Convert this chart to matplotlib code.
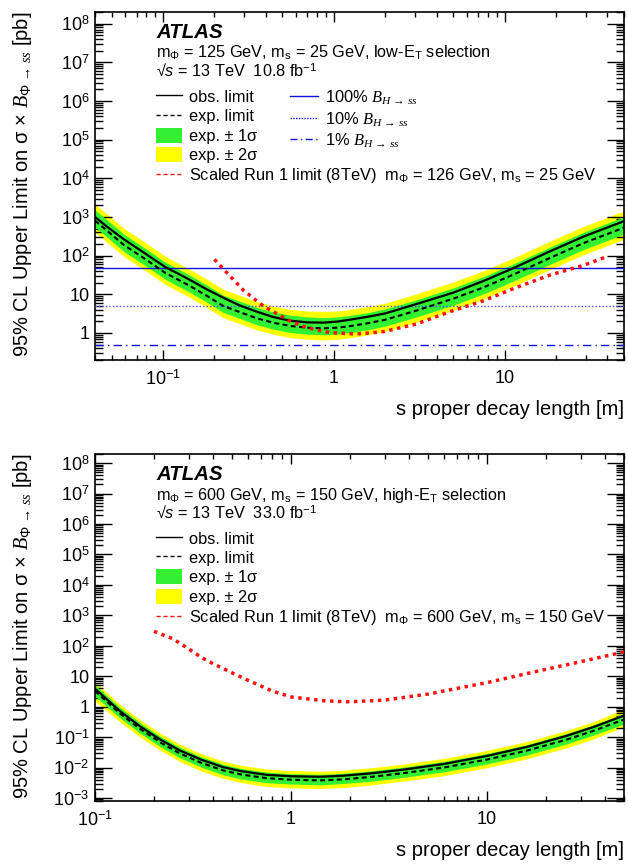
import numpy as np
import matplotlib
matplotlib.use('Agg')
import matplotlib.pyplot as plt
from matplotlib.lines import Line2D
from matplotlib.patches import Patch
from matplotlib.ticker import LogLocator, FuncFormatter, NullFormatter

plt.rcParams['font.family'] = ['Liberation Sans', 'DejaVu Sans']
plt.rcParams['mathtext.fontset'] = 'custom'
plt.rcParams['mathtext.rm'] = 'Liberation Sans'
plt.rcParams['mathtext.it'] = 'Liberation Serif:italic'
plt.rcParams['mathtext.sf'] = 'Liberation Sans:italic'
plt.rcParams['mathtext.bf'] = 'Liberation Sans:bold'

# ---------------- data: top panel (m_Phi=125, m_s=25, low-ET) ----------------
top_x   = [0.04, 0.047, 0.059, 0.08, 0.103, 0.144, 0.18, 0.225, 0.28, 0.354,
           0.44, 0.555, 0.7, 0.87, 1.05, 1.24, 1.6, 2.0, 3.05, 5.0,
           7.5, 11.2, 18.5, 28.9, 50]
top_obs = [1000, 560, 265, 108, 51, 23.5, 13.5, 8.2, 5.2, 3.56,
           2.6, 2.08, 1.88, 1.85, 1.97, 2.2, 2.65, 3.2, 5.6, 11,
           22, 47, 130, 310, 780]
top_exp = [800, 445, 189, 78, 36, 16.4, 9.2, 5.0, 3.5, 2.4,
           1.85, 1.52, 1.37, 1.32, 1.37, 1.5, 1.8, 2.2, 3.8, 7.7,
           15, 32, 88, 210, 530]
top_m2  = [400, 222, 95, 39, 18, 8.2, 4.6, 2.5, 1.75, 1.2,
           0.93, 0.76, 0.69, 0.66, 0.69, 0.75, 0.9, 1.1, 1.9, 3.85,
           7.5, 16, 44, 105, 265]
top_m1  = [545, 303, 128, 53, 24.5, 11.2, 6.3, 3.4, 2.4, 1.63,
           1.26, 1.03, 0.93, 0.9, 0.93, 1.02, 1.22, 1.5, 2.6, 5.2,
           10.2, 21.8, 60, 143, 360]
top_p1  = [1520, 845, 360, 148, 68, 31, 17.5, 9.5, 6.7, 4.6,
           3.5, 2.9, 2.6, 2.5, 2.6, 2.85, 3.4, 4.2, 7.2, 14.6,
           28.5, 61, 167, 400, 1010]
top_p2  = [2160, 1200, 510, 210, 97, 44, 25, 13.5, 9.5, 6.5,
           5.0, 4.1, 3.7, 3.6, 3.7, 4.05, 4.9, 5.9, 10.3, 20.8,
           40.5, 86, 238, 567, 1430]
top_run1_x = [0.2, 0.25, 0.295, 0.386, 0.555, 0.694, 0.95, 1.36, 1.95, 3.05,
              4.78, 7.5, 11.8, 18.5, 28.9, 38.2]
top_run1_y = [80, 28, 12.9, 5.0, 2.04, 1.37, 1.02, 0.94, 1.08, 1.71,
              3.56, 6.8, 15.2, 31.6, 56, 88.5]
# sigma(H) x BR lines : 100%, 10%, 1%
br_levels = [48.6, 4.86, 0.486]
br_labels = [r'100% $B_{H\,\rightarrow\,ss}$', r'10% $B_{H\,\rightarrow\,ss}$',
             r'1% $B_{H\,\rightarrow\,ss}$']

# ---------------- data: bottom panel (m_Phi=600, m_s=150, high-ET) ----------------
bot_x   = [0.1, 0.134, 0.17, 0.215, 0.27, 0.347, 0.45, 0.56, 0.75, 1.0,
           1.4, 1.84, 2.6, 3.76, 6.0, 10, 16, 25.3, 35, 50]
bot_obs = [3.9, 0.72, 0.225, 0.084, 0.0369, 0.0184, 0.01035, 0.0076, 0.0058, 0.0052,
           0.0050, 0.0054, 0.00653, 0.0086, 0.0131, 0.0242, 0.0479, 0.109, 0.216, 0.51]
bot_exp = [3.3, 0.6, 0.186, 0.068, 0.0296, 0.0145, 0.0081, 0.0059, 0.0045, 0.0040,
           0.0038, 0.0041, 0.0050, 0.0066, 0.0100, 0.0184, 0.0362, 0.082, 0.162, 0.38]
bot_m2  = [1.5, 0.32, 0.10, 0.037, 0.016, 0.0078, 0.0044, 0.0032, 0.0024, 0.00216,
           0.00205, 0.0022, 0.0027, 0.0036, 0.0054, 0.0099, 0.0195, 0.044, 0.087, 0.22]
bot_m1  = [2.2, 0.43, 0.134, 0.049, 0.0213, 0.0104, 0.0058, 0.0042, 0.0032, 0.0029,
           0.0027, 0.0030, 0.0036, 0.0048, 0.0072, 0.0132, 0.026, 0.059, 0.117, 0.27]
bot_p1  = [5.2, 0.95, 0.294, 0.107, 0.0468, 0.0229, 0.0128, 0.0093, 0.0071, 0.0063,
           0.0060, 0.0065, 0.0079, 0.0104, 0.0158, 0.029, 0.057, 0.13, 0.256, 0.6]
bot_p2  = [6.6, 1.2, 0.372, 0.136, 0.059, 0.029, 0.0162, 0.0118, 0.009, 0.0080,
           0.0076, 0.0082, 0.0100, 0.0132, 0.020, 0.0368, 0.072, 0.164, 0.324, 0.85]
bot_run1_x = [0.2, 0.25, 0.3, 0.35, 0.4, 0.5, 0.6, 0.8, 1.0, 1.5, 2.0, 3.0, 5.0,
              10, 20, 30, 50]
bot_run1_y = [300, 170, 80, 41, 26, 13, 7.5, 3.3, 2.1, 1.55, 1.45, 1.65, 2.6,
              6.2, 17, 30, 63]

panels = [
    dict(x=top_x, obs=top_obs, exp=top_exp, m2=top_m2, m1=top_m1, p1=top_p1, p2=top_p2,
         rx=top_run1_x, ry=top_run1_y, xlim=(0.04, 50), ylim=(0.2, 2e8),
         line1=r'm$_{\Phi}$ = 125 GeV, m$_{\rm s}$ = 25 GeV, low-E$_{\rm T}$ selection',
         line2=r'√$\mathsf{s}$ = 13 TeV  10.8 fb$^{-1}$',
         run1=r'Scaled Run 1 limit (8TeV)  m$_{\Phi}$ = 126 GeV, m$_{\rm s}$ = 25 GeV',
         br=True),
    dict(x=bot_x, obs=bot_obs, exp=bot_exp, m2=bot_m2, m1=bot_m1, p1=bot_p1, p2=bot_p2,
         rx=bot_run1_x, ry=bot_run1_y, xlim=(0.1, 50), ylim=(8e-4, 2e8),
         line1=r'm$_{\Phi}$ = 600 GeV, m$_{\rm s}$ = 150 GeV, high-E$_{\rm T}$ selection',
         line2=r'√$\mathsf{s}$ = 13 TeV  33.0 fb$^{-1}$',
         run1=r'Scaled Run 1 limit (8TeV)  m$_{\Phi}$ = 600 GeV, m$_{\rm s}$ = 150 GeV',
         br=False),
]

GREEN = '#33f033'
YELLOW = '#ffff00'
RED = '#ff1010'
BLUE = '#1010e0'

def logfmt(v, pos):
    e = int(round(np.log10(v)))
    if e == 0:
        return '1'
    if e == 1:
        return '10'
    return r'$10^{%d}$' % e

fig = plt.figure(figsize=(6.28, 8.64), dpi=100)
rects = [[95/628, 1-360/864, 529/628, 348/864],
         [95/628, 1-801/864, 529/628, 347/864]]

ylabel = r'95% CL Upper Limit on σ × $B_{\Phi\,\rightarrow\,ss}$ [pb]'

for rect, p in zip(rects, panels):
    ax = fig.add_axes(rect)
    ax.set_xscale('log')
    ax.set_yscale('log')
    ax.set_xlim(*p['xlim'])
    ax.set_ylim(*p['ylim'])

    ax.fill_between(p['x'], p['m2'], p['p2'], color=YELLOW, lw=0, zorder=1)
    ax.fill_between(p['x'], p['m1'], p['p1'], color=GREEN, lw=0, zorder=2)
    ax.plot(p['x'], p['exp'], color='black', lw=1.5, ls=(0, (2.4, 1.6)), zorder=4)
    ax.plot(p['x'], p['obs'], color='black', lw=1.6, zorder=5)
    ax.plot(p['rx'], p['ry'], color=RED, lw=2.5, ls=(0, (1, 1.3)),
            dash_capstyle='butt', zorder=6)

    if p['br']:
        ax.axhline(br_levels[0], color=BLUE, lw=1.0, zorder=3)
        ax.axhline(br_levels[1], color='#5050ff', lw=1.0, ls=(0, (1, 1.5)), zorder=3)
        ax.axhline(br_levels[2], color=BLUE, lw=1.0, ls=(0, (6, 3, 1, 3)), zorder=3)

    # ticks
    ax.yaxis.set_major_locator(LogLocator(base=10, numticks=30))
    ax.yaxis.set_minor_locator(LogLocator(base=10, subs=np.arange(2, 10), numticks=200))
    ax.yaxis.set_major_formatter(FuncFormatter(logfmt))
    ax.yaxis.set_minor_formatter(NullFormatter())
    ax.xaxis.set_major_locator(LogLocator(base=10, numticks=30))
    ax.xaxis.set_minor_locator(LogLocator(base=10, subs=np.arange(2, 10), numticks=200))
    ax.xaxis.set_major_formatter(FuncFormatter(logfmt))
    ax.xaxis.set_minor_formatter(NullFormatter())
    ax.tick_params(which='both', direction='in', top=True, right=True, width=1.0,
                   labelsize=13)
    ax.tick_params(axis='y', which='major', length=12, pad=4)
    ax.tick_params(axis='y', which='minor', length=6)
    ax.tick_params(axis='x', which='major', length=7.5, pad=7)
    ax.tick_params(axis='x', which='minor', length=3.8)
    for s in ax.spines.values():
        s.set_linewidth(1.2)

    ax.set_xlabel('s proper decay length [m]', fontsize=14.5, loc='right')
    ax.xaxis.set_label_coords(1.0, -0.114)
    ax.set_ylabel(ylabel, fontsize=14.5, loc='top')
    ax.yaxis.set_label_coords(-0.115, 1.0)

    # texts
    ax.text(0.1153, 0.925, 'ATLAS', transform=ax.transAxes, fontsize=14.7,
            fontweight='bold', fontstyle='italic', va='baseline')
    ax.text(0.1153, 0.868, p['line1'], transform=ax.transAxes, fontsize=11.7,
            va='baseline')
    ax.text(0.1153, 0.813, p['line2'], transform=ax.transAxes, fontsize=11.7,
            va='baseline')

    handles = [Line2D([], [], color='black', lw=1.0),
               Line2D([], [], color='black', lw=1.0, ls=(0, (3, 2))),
               Patch(facecolor=GREEN, edgecolor='none'),
               Patch(facecolor=YELLOW, edgecolor='none'),
               Line2D([], [], color=RED, lw=1.0, ls=(0, (3, 2)))]
    labels = ['obs. limit', 'exp. limit', 'exp. ± 1σ', 'exp. ± 2σ', p['run1']]
    leg = ax.legend(handles, labels, loc='upper left', bbox_to_anchor=(0.1153, 0.78),
                    frameon=False, fontsize=11.8, handlelength=1.6, handleheight=1.05,
                    handletextpad=0.4, labelspacing=0.2, borderpad=0, borderaxespad=0)
    if p['br']:
        ax.add_artist(leg)
        bh = [Line2D([], [], color=BLUE, lw=1.0),
              Line2D([], [], color=BLUE, lw=1.0, ls=(0, (1, 1))),
              Line2D([], [], color=BLUE, lw=1.0, ls=(0, (5, 2.5, 1, 2.5)))]
        ax.legend(bh, br_labels, loc='upper left', bbox_to_anchor=(0.369, 0.78),
                  frameon=False, fontsize=11.8, handlelength=1.7, handleheight=1.05,
                  handletextpad=0.4, labelspacing=0.2, borderpad=0, borderaxespad=0)

fig.savefig('out.png', dpi=100)
